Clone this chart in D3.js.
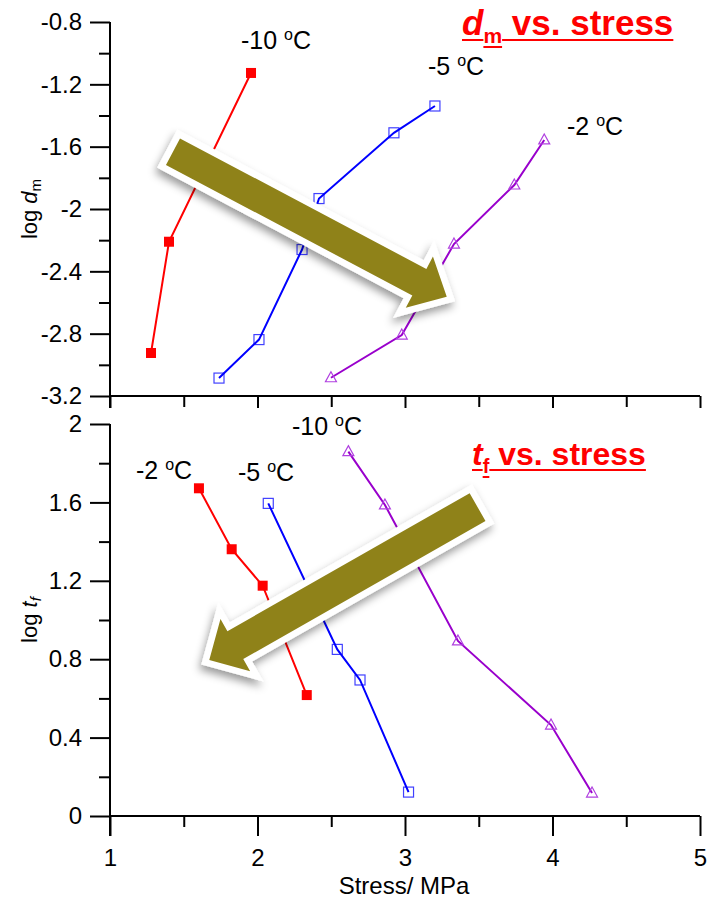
<!DOCTYPE html>
<html><head><meta charset="utf-8">
<script src="https://cdn.jsdelivr.net/npm/d3@7"></script>
<style>body{margin:0;background:#fff} svg{display:block} text{font-family:"Liberation Sans",Arial,Helvetica,sans-serif}</style>
</head><body><svg id="c" width="707" height="899"></svg>
<script>
// ---- data ----
const stressTicks = [1, 2, 3, 4, 5];
const stressMinor = [1.5, 2.5, 3.5, 4.5];
const dmTicks = [-3.2, -2.8, -2.4, -2, -1.6, -1.2, -0.8];
const dmMinor = [-3, -2.6, -2.2, -1.8, -1.4, -1];
const tfTicks = [0, 0.4, 0.8, 1.2, 1.6, 2];
const tfMinor = [0.2, 0.6, 1, 1.4, 1.8];

// top panel: log dm vs stress
const dmStressM10 = [1.278, 1.400, 1.956];
const dmLogM10    = [-2.924, -2.210, -1.127];
const dmStressM5  = [1.739, 2.010, 2.302, 2.417, 2.925, 3.203];
const dmLogM5     = [-3.085, -2.838, -2.260, -1.933, -1.511, -1.339];
const dmStressM2  = [2.498, 2.978, 3.332, 3.741, 3.944];
const dmLogM2     = [-3.083, -2.809, -2.225, -1.846, -1.557];

// bottom panel: log tf vs stress
const tfStressRed    = [1.603, 1.825, 2.035, 2.334];
const tfLogRed       = [1.672, 1.361, 1.175, 0.617];
const tfStressBlue   = [2.073, 2.541, 2.695, 3.024];
const tfLogBlue      = [1.595, 0.850, 0.694, 0.122];
const tfStressPurple = [2.616, 2.864, 3.359, 3.990, 4.268];
const tfLogPurple    = [1.859, 1.587, 0.893, 0.464, 0.117];

const topLabels = ["-10", "-5", "-2"];
const bottomLabels = ["-2", "-5", "-10"];

// ---- layout ----
const svg = d3.select("#c");
const X0 = 110, X1 = 700;
const x = d3.scaleLinear().domain([1, 5]).range([X0, X1]);
const yTop = d3.scaleLinear().domain([-3.2, -0.8]).range([396, 22]);
const yBot = d3.scaleLinear().domain([0, 2]).range([816, 424]);
const RED = "#ff0000", BLUE = "#0000ff", PURPLE = "#9900cc";
const fmt = d => String(+d.toFixed(1));

const defs = svg.append("defs");
const f = defs.append("filter").attr("id", "sh").attr("x", "-20%").attr("y", "-20%").attr("width", "140%").attr("height", "160%");
f.append("feDropShadow").attr("dx", -2).attr("dy", 5).attr("stdDeviation", 4).attr("flood-color", "#000").attr("flood-opacity", 0.4);

function styleAxis(g) {
  g.attr("font-size", 24);
  g.selectAll("path.domain").remove();
  g.selectAll("line").attr("stroke", "#000").attr("stroke-width", 2);
  g.selectAll("text").attr("font-size", 24).attr("fill", "#000").style("font-family", '"Liberation Sans",Arial,sans-serif');
}

function panel(y, yTicks, yMinor, showX, xTickLen) {
  const gy = svg.append("g").attr("transform", `translate(${X0},0)`)
    .call(d3.axisLeft(y).tickValues(yTicks).tickSize(20).tickPadding(8).tickFormat(fmt));
  styleAxis(gy);
  const gym = svg.append("g").attr("transform", `translate(${X0},0)`)
    .call(d3.axisLeft(y).tickValues(yMinor).tickSize(11).tickFormat(""));
  styleAxis(gym);
  const yb = y.range()[0];
  const gx = svg.append("g").attr("transform", `translate(0,${yb})`)
    .call(d3.axisBottom(x).tickValues(stressTicks).tickSize(xTickLen).tickPadding(13).tickFormat(showX ? d3.format("d") : ""));
  styleAxis(gx);
  const gxm = svg.append("g").attr("transform", `translate(0,${yb})`)
    .call(d3.axisBottom(x).tickValues(stressMinor).tickSize(11).tickFormat(""));
  styleAxis(gxm);
  svg.append("line").attr("x1", X0).attr("x2", X0).attr("y1", y.range()[1]).attr("y2", yb + xTickLen)
    .attr("stroke", "#000").attr("stroke-width", 2);
  svg.append("line").attr("x1", X0).attr("x2", X1).attr("y1", yb).attr("y2", yb)
    .attr("stroke", "#000").attr("stroke-width", 2);
}

panel(yTop, dmTicks, dmMinor, false, 12);
panel(yBot, tfTicks, tfMinor, true, 20);

function series(y, xs, ys, color, marker) {
  const pts = xs.map((v, i) => [x(v), y(ys[i])]);
  svg.append("path").attr("d", d3.line()(pts)).attr("fill", "none").attr("stroke", color).attr("stroke-width", 2);
  const g = svg.append("g");
  pts.forEach(p => {
    if (marker === "fsq") {
      g.append("rect").attr("x", p[0] - 5).attr("y", p[1] - 5).attr("width", 10).attr("height", 10).attr("fill", color);
    } else if (marker === "osq") {
      g.append("rect").attr("x", p[0] - 5).attr("y", p[1] - 5).attr("width", 10).attr("height", 10)
        .attr("fill", "none").attr("stroke", color).attr("stroke-width", 1.2).attr("stroke-opacity", 0.75);
    } else {
      g.append("path").attr("d", `M${p[0]},${p[1] - 6}L${p[0] + 5.5},${p[1] + 4}L${p[0] - 5.5},${p[1] + 4}Z`)
        .attr("fill", "none").attr("stroke", "#b040e0").attr("stroke-width", 1.2);
    }
  });
}
series(yTop, dmStressM10, dmLogM10, RED, "fsq");
series(yTop, dmStressM5, dmLogM5, BLUE, "osq");
series(yTop, dmStressM2, dmLogM2, PURPLE, "tri");
series(yBot, tfStressRed, tfLogRed, RED, "fsq");
series(yBot, tfStressBlue, tfLogBlue, BLUE, "osq");
series(yBot, tfStressPurple, tfLogPurple, PURPLE, "tri");

function tLabel(px, py, t) {
  const tx = svg.append("text").attr("x", px).attr("y", py).attr("font-size", 25).attr("fill", "#000");
  tx.append("tspan").text(t + " ");
  tx.append("tspan").attr("font-size", 16).attr("dy", -9).text("o");
  tx.append("tspan").attr("dy", 9).text("C");
}
tLabel(241, 49, topLabels[0]);
tLabel(428, 75, topLabels[1]);
tLabel(567, 135, topLabels[2]);
tLabel(136, 479, bottomLabels[0]);
tLabel(238, 481, bottomLabels[1]);
tLabel(292, 435, bottomLabels[2]);

function yTitle(cy, main, sub, subItalic) {
  const t = svg.append("text").attr("transform", `translate(37,${cy}) rotate(-90)`).attr("text-anchor", "middle")
    .attr("font-size", 22).attr("fill", "#000");
  t.append("tspan").text("log ");
  t.append("tspan").attr("font-style", "italic").text(main);
  t.append("tspan").attr("font-size", 15).attr("dy", 4).attr("font-style", subItalic ? "italic" : "normal").text(sub);
}
yTitle(209, "d", "m", false);
yTitle(620, "t", "f", true);
svg.append("text").attr("x", (X0 + X1) / 2 - 1).attr("y", 894).attr("text-anchor", "middle")
  .attr("font-size", 24).attr("fill", "#000").text("Stress/ MPa");

function arrow(xs, ys, y, shaftW, headW, headL) {
  const x0 = x(xs[0]), y0 = y(ys[0]), x1 = x(xs[1]), y1 = y(ys[1]);
  const dx = x1 - x0, dy = y1 - y0, L = Math.hypot(dx, dy), ux = dx / L, uy = dy / L, nx = -uy, ny = ux;
  const bx = x1 - ux * headL, by = y1 - uy * headL;
  const P = [[x0 + nx * shaftW / 2, y0 + ny * shaftW / 2], [bx + nx * shaftW / 2, by + ny * shaftW / 2],
    [bx + nx * headW / 2, by + ny * headW / 2], [x1, y1], [bx - nx * headW / 2, by - ny * headW / 2],
    [bx - nx * shaftW / 2, by - ny * shaftW / 2], [x0 - nx * shaftW / 2, y0 - ny * shaftW / 2]];
  const d = "M" + P.map(p => p.join(",")).join("L") + "Z";
  svg.append("path").attr("d", d).attr("fill", "#fff").attr("stroke", "#fff").attr("stroke-width", 13)
    .attr("stroke-linejoin", "miter").attr("filter", "url(#sh)");
  svg.append("path").attr("d", d).attr("fill", "#8f8219");
}
arrow([1.427, 3.283], [-1.632, -2.563], yTop, 30, 58, 31);
arrow([3.492, 1.673], [1.576, 0.796], yBot, 32, 60, 30);

function title(px, py, main, sub, size, subSize) {
  const g = svg.append("g");
  const a = g.append("text").attr("x", px).attr("y", py).attr("font-size", size).attr("font-weight", "bold")
    .attr("font-style", "italic").attr("fill", RED).text(main);
  const wa = a.node().getComputedTextLength();
  const b = g.append("text").attr("x", px + wa).attr("y", py + 8).attr("font-size", subSize).attr("font-weight", "bold")
    .attr("fill", RED).text(sub);
  const wb = b.node().getComputedTextLength();
  const c = g.append("text").attr("x", px + wa + wb).attr("y", py).attr("font-size", size).attr("font-weight", "bold")
    .attr("fill", RED).attr("xml:space", "preserve").style("white-space", "pre").text(" vs. stress");
  const wc = c.node().getComputedTextLength();
  const ul = (x1, x2, yy) => g.append("line").attr("x1", x1).attr("x2", x2).attr("y1", yy).attr("y2", yy)
    .attr("stroke", RED).attr("stroke-width", 2);
  ul(px, px + wa, py + 5);
  ul(px + wa, px + wa + wb, py + 12);
  ul(px + wa + wb, px + wa + wb + wc, py + 5);
}
title(462, 35, "d", "m", 35, 21);
title(472, 465, "t", "f", 32, 20);
</script></body></html>
